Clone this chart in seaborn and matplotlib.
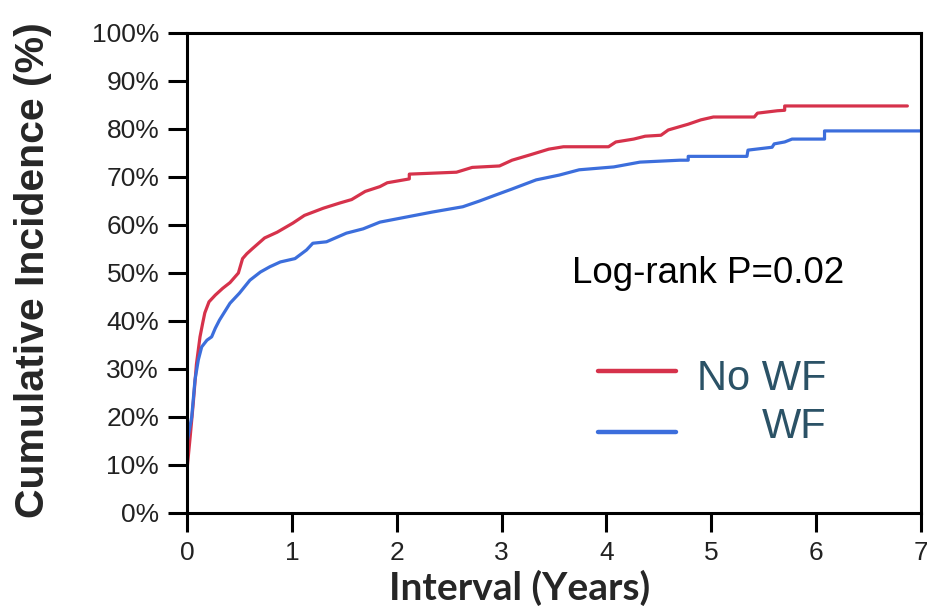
import matplotlib
matplotlib.use("Agg")
import matplotlib.pyplot as plt
import seaborn as sns
import pandas as pd

# Cumulative incidence curves (years, percent); repeated years mark vertical jumps
no_wf_years = [0.0, 0.03, 0.06, 0.09, 0.124, 0.15, 0.17, 0.21, 0.27, 0.34, 0.41, 0.49,
               0.53, 0.57, 0.62, 0.74, 0.86, 1.01, 1.12, 1.30, 1.46, 1.57, 1.70, 1.84,
               1.91, 2.12, 2.12, 2.57, 2.72, 2.98, 3.10, 3.27, 3.45, 3.59, 4.02, 4.09,
               4.26, 4.37, 4.52, 4.59, 4.78, 4.90, 5.02, 5.41, 5.44, 5.63, 5.70, 5.70,
               6.87]
no_wf_pct = [9.0, 15.8, 23.0, 31.0, 36.7, 39.6, 41.7, 44.0, 45.4, 46.8, 48.0, 50.0,
             53.0, 54.0, 55.0, 57.3, 58.5, 60.4, 62.0, 63.5, 64.6, 65.3, 67.0, 68.0,
             68.8, 69.6, 70.6, 71.0, 72.0, 72.3, 73.5, 74.6, 75.8, 76.3, 76.3, 77.3,
             77.9, 78.5, 78.7, 79.8, 81.0, 81.9, 82.5, 82.5, 83.3, 83.8, 83.9, 84.8,
             84.8]

wf_years = [0.0, 0.045, 0.076, 0.108, 0.14, 0.19, 0.235, 0.27, 0.31, 0.41, 0.50, 0.60,
            0.70, 0.79, 0.89, 1.03, 1.14, 1.20, 1.33, 1.52, 1.68, 1.84, 2.03, 2.34,
            2.63, 2.79, 2.95, 3.10, 3.33, 3.55, 3.74, 4.07, 4.32, 4.70, 4.78, 4.78,
            5.34, 5.35, 5.58, 5.60, 5.70, 5.77, 6.08, 6.08, 7.0]
wf_pct = [14.6, 20.0, 27.7, 31.9, 34.6, 36.0, 36.7, 38.5, 40.2, 43.7, 45.8, 48.5,
          50.2, 51.3, 52.3, 53.0, 54.8, 56.2, 56.5, 58.3, 59.2, 60.6, 61.4, 62.7,
          63.8, 65.0, 66.3, 67.5, 69.4, 70.4, 71.5, 72.1, 73.1, 73.5, 73.5, 74.3,
          74.3, 75.6, 76.2, 76.9, 77.3, 77.9, 77.9, 79.6, 79.6]

groups = ["No WF", "WF"]
colors = {"No WF": "#d6324b", "WF": "#3c6edc"}
x_ticks = [0, 1, 2, 3, 4, 5, 6, 7]
y_ticks = [0, 10, 20, 30, 40, 50, 60, 70, 80, 90, 100]
y_tick_labels = [f"{v}%" for v in y_ticks]
annotation = "Log-rank P=0.02"

df = pd.concat([
    pd.DataFrame({"Years": no_wf_years, "Incidence": no_wf_pct, "Group": groups[0]}),
    pd.DataFrame({"Years": wf_years, "Incidence": wf_pct, "Group": groups[1]}),
], ignore_index=True)

sns.set_style("ticks")
plt.rcParams["font.family"] = ["Liberation Sans", "DejaVu Sans"]

fig = plt.figure(figsize=(9.28, 6.10), dpi=100)
ax = fig.add_axes([187 / 928, 1 - 513 / 610, 734 / 928, 480 / 610])

sns.lineplot(data=df, x="Years", y="Incidence", hue="Group", palette=colors,
             hue_order=groups, estimator=None, sort=False,
             linewidth=2.3, legend=False, ax=ax)

ax.set_xlim(0, 7)
ax.set_ylim(0, 100)
ax.set_xticks(x_ticks)
ax.set_yticks(y_ticks)
ax.set_yticklabels(y_tick_labels)
ax.tick_params(axis="both", direction="out", length=14, width=2.2, labelsize=19,
               pad=6, colors="black", labelcolor="#222222")
for side in ["left", "right", "top", "bottom"]:
    ax.spines[side].set_visible(True)
    ax.spines[side].set_linewidth(2.2)
    ax.spines[side].set_color("black")

ax.set_ylabel("Cumulative Incidence (%)", fontsize=29.5, fontweight="bold",
              family=["Liberation Sans", "DejaVu Sans"])
ax.yaxis.set_label_coords(-0.184, 0.506)
ax.set_xlabel("Interval (Years)", fontsize=28, fontweight="bold",
              family=["Lato", "DejaVu Sans"])
ax.xaxis.set_label_coords(0.4537, -0.1175)

ax.text(0.5245, 0.479, annotation, transform=ax.transAxes, fontsize=26.5,
        ha="left", va="baseline", color="black")

# Legend keys drawn as short segments with right-aligned labels
legend_rows = [(0.296, 0.256), (0.169, 0.156)]
for g, (ly, ty) in zip(groups, legend_rows):
    ax.plot([0.560, 0.666], [ly, ly], transform=ax.transAxes, color=colors[g],
            linewidth=3.2, solid_capstyle="round", clip_on=False)
    ax.text(0.8706, ty, g, transform=ax.transAxes, fontsize=30, ha="right",
            va="baseline", color="#2b5266")

fig.savefig("out.png", dpi=100, facecolor="white")
